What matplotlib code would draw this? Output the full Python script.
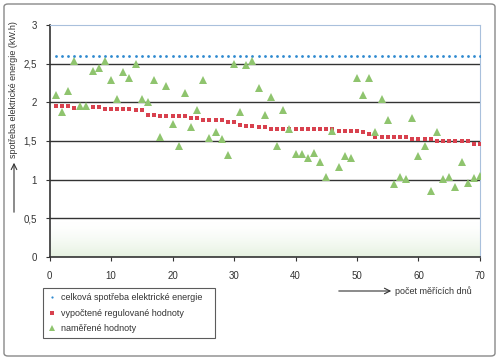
import numpy as np
import matplotlib
matplotlib.use('agg')
import matplotlib.pyplot as plt
from matplotlib.patches import FancyBboxPatch
from matplotlib.ticker import FuncFormatter

plt.rcParams['font.family'] = ['Liberation Sans', 'DejaVu Sans']

# dny mereni
dny = np.arange(1, 71)

# celkova spotreba elektricke energie
celkova = [2.6] * 70

# vypoctene regulovane hodnoty
regulovane = [1.95, 1.95, 1.95, 1.93, 1.93, 1.93, 1.94, 1.94, 1.92, 1.91,
              1.91, 1.91, 1.91, 1.90, 1.90, 1.84, 1.84, 1.82, 1.82, 1.82,
              1.82, 1.82, 1.80, 1.80, 1.77, 1.77, 1.77, 1.77, 1.74, 1.74,
              1.71, 1.69, 1.69, 1.68, 1.68, 1.66, 1.66, 1.66, 1.66, 1.66,
              1.66, 1.66, 1.66, 1.66, 1.66, 1.66, 1.63, 1.63, 1.63, 1.63,
              1.62, 1.59, 1.55, 1.55, 1.55, 1.55, 1.55, 1.55, 1.525, 1.525,
              1.525, 1.525, 1.50, 1.50, 1.50, 1.50, 1.50, 1.50, 1.46, 1.46]

# namerene hodnoty
namerene = [2.10, 1.88, 2.15, 2.54, 1.95, 1.95, 2.41, 2.45, 2.54, 2.29,
            2.04, 2.39, 2.31, 2.50, 2.04, 2.01, 2.29, 1.55, 2.21, 1.72,
            1.43, 2.12, 1.68, 1.90, 2.29, 1.54, 1.62, 1.53, 1.32, 2.50,
            1.88, 2.48, 2.54, 2.19, 1.83, 2.07, 1.44, 1.90, 1.65, 1.33,
            1.33, 1.28, 1.35, 1.23, 1.04, 1.63, 1.17, 1.31, 1.28, 2.32,
            2.10, 2.31, 1.62, 2.04, 1.77, 0.95, 1.04, 1.01, 1.80, 1.31,
            1.44, 0.85, 1.62, 1.01, 1.03, 0.90, 1.23, 0.96, 1.02, 1.05]

W, H = 500, 360
fig = plt.figure(figsize=(5, 3.6), dpi=100)
ax = fig.add_axes([49.5 / W, 1 - 257 / H, (480 - 49.5) / W, (257 - 25) / H])

# jemny zeleny prechod u dna
grad = np.linspace(1, 0, 100).reshape(-1, 1) ** 1.5
cmap = matplotlib.colors.LinearSegmentedColormap.from_list('g', ['white', '#e6f2e1'])
ax.imshow(grad, extent=[0, 70, 0, 0.45], aspect='auto', cmap=cmap, zorder=0,
          origin='lower')

for yv in [0.5, 1, 1.5, 2, 2.5]:
    ax.axhline(yv, color='#333333', lw=1.0, zorder=1)

l1, = ax.plot(dny, celkova, ls='none', marker='o', ms=2.0, color='#2f8ad0',
              mew=0, label='celková spotřeba elektrické energie', zorder=3)
l2, = ax.plot(dny, regulovane, ls='none', marker='s', ms=3.3, color='#d8414e',
              mew=0, label='vypočtené regulované hodnoty', zorder=3)
l3, = ax.plot(dny, namerene, ls='none', marker='^', ms=6, color='#8fc46e',
              mew=0, label='naměřené hodnoty', zorder=4)

ax.set_xlim(0, 70)
ax.set_ylim(0, 3)
ax.set_xticks(range(0, 71, 10))
ax.set_yticks(np.arange(0, 3.01, 0.5))
ax.yaxis.set_major_formatter(FuncFormatter(lambda v, p: f'{v:g}'.replace('.', ',')))
ax.tick_params(labelsize=7, length=3, width=0.8, color='#333333', labelcolor='#333333')
ax.tick_params(axis='x', pad=7)
ax.tick_params(axis='y', pad=6)

ax.spines['left'].set_color('#333333')
ax.spines['bottom'].set_color('#333333')
ax.spines['left'].set_linewidth(1.2)
ax.spines['bottom'].set_linewidth(1.2)
ax.spines['top'].set_color('#a9c0dc')
ax.spines['right'].set_color('#a9c0dc')

# popisky os se sipkami
fig.text(14 / W, 1 - 90 / H, 'spotřeba elektrické energie (kW.h)', rotation=90,
         ha='center', va='center', fontsize=6.5, color='#333333')
ax.annotate('', xy=(14 / W, 1 - 160 / H), xytext=(14 / W, 1 - 215 / H),
            xycoords='figure fraction', textcoords='figure fraction',
            arrowprops=dict(arrowstyle='->', color='#333333', lw=0.8))
ax.annotate('', xy=(394 / W, 1 - 291 / H), xytext=(336 / W, 1 - 291 / H),
            xycoords='figure fraction', textcoords='figure fraction',
            arrowprops=dict(arrowstyle='->', color='#333333', lw=0.8))
fig.text(395 / W, 1 - 291 / H, 'počet měřících dnů', ha='left', va='center',
         fontsize=6.5, color='#333333')

leg = fig.legend(handles=[l1, l2, l3], loc='lower left',
                 bbox_to_anchor=(38 / W, 1 - 343 / H, (220 - 38) / W, (343 - 288) / H),
                 mode='expand', fontsize=6.5, frameon=True, fancybox=False,
                 borderpad=0.6, labelspacing=0.7, handlelength=0.8,
                 handletextpad=0.6, markerscale=0.8)
leg.get_frame().set_edgecolor('#333333')
leg.get_frame().set_linewidth(0.8)
for t in leg.get_texts():
    t.set_color('#333333')

# ramecek kolem obrazku
fig.patches.append(FancyBboxPatch((4 / W, 4 / H), 491 / W, 352 / H,
                                  boxstyle='round,pad=0,rounding_size=0.008',
                                  transform=fig.transFigure, fill=False,
                                  edgecolor='#888888', lw=1.0))

fig.savefig('out.png', dpi=100)
